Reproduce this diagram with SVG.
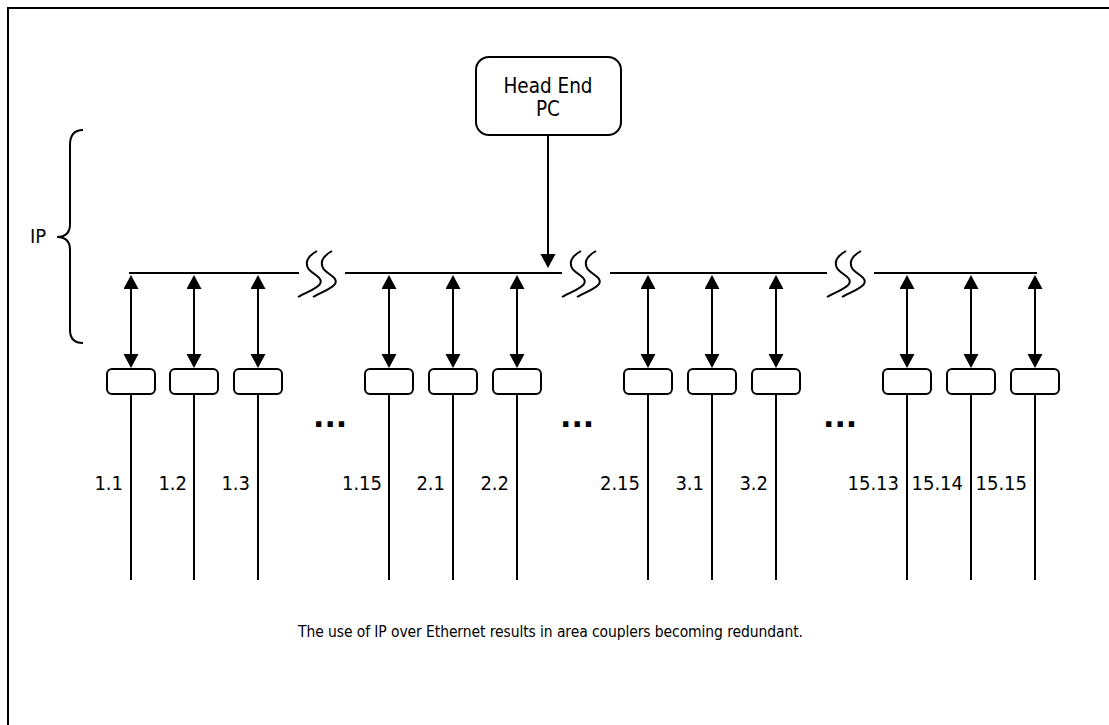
<svg xmlns="http://www.w3.org/2000/svg" width="1109" height="725" viewBox="0 0 1109 725">
  <style>
    .ln { stroke: #000; stroke-width: 2; fill: none; }
    .box { stroke: #000; stroke-width: 2; fill: #fff; }
    .txt { font-family: "DejaVu Sans Condensed", "DejaVu Sans", sans-serif; font-size: 20px; fill: #000; }
    .hd { font-size: 20.5px; }
    .lbl { text-anchor: end; }
    .dots { font-family: "DejaVu Sans", sans-serif; font-weight: bold; font-size: 30px; fill: #000; }
    .cap { font-family: "DejaVu Sans Condensed", "DejaVu Sans", sans-serif; font-size: 15.5px; fill: #000; }
    .arr { stroke: #000; stroke-width: 2; fill: none; marker-start: url(#tip); marker-end: url(#tip); }
  </style>
  <defs>
    <marker id="tip" markerUnits="userSpaceOnUse" markerWidth="16" markerHeight="16" refX="10" refY="7.5" orient="auto-start-reverse">
      <path d="M0,0 L14,7.5 L0,15 z" fill="#000"/>
    </marker>
    <!-- one break mark: two S-shaped strokes -->
    <g id="brk">
      <path class="ln" d="M19 251 C10 256 7 262 10 268 C13 274 26 277 22 284 C19 289 8 292 0 297"/>
      <path class="ln" d="M34 251 C25 256 22 262 25 268 C28 274 41 277 37 284 C34 289 23 292 15 297"/>
    </g>
  </defs>

  <rect width="1109" height="725" fill="#fff"/>
  <!-- page frame -->
  <path class="ln" d="M8 725 L8 8 L1109 8"/>

  <!-- head end -->
  <g id="head-end">
    <rect class="box" x="476" y="57" width="145" height="78" rx="13"/>
    <text class="txt hd" x="548" y="93" text-anchor="middle">Head End</text>
    <text class="txt hd" x="548" y="116" text-anchor="middle">PC</text>
  </g>

  <!-- IP bracket -->
  <g id="ip">
    <path class="ln" d="M83 130 Q70 130 70 145 L70 224 Q70 237 57 237 Q70 237 70 250 L70 330 Q70 343 83 343"/>
    <text class="txt" x="30" y="243">IP</text>
  </g>

  <g id="connectors">
    <!-- backbone segments -->
    <line class="ln" x1="129" y1="273" x2="299" y2="273"/>
    <line class="ln" x1="345" y1="273" x2="562" y2="273"/>
    <line class="ln" x1="610" y1="273" x2="827" y2="273"/>
    <line class="ln" x1="874" y1="273" x2="1037" y2="273"/>
    <use href="#brk" x="298"/>
    <use href="#brk" x="562"/>
    <use href="#brk" x="827"/>
    <!-- head end feed -->
    <line class="ln" x1="548" y1="135" x2="548" y2="264" marker-end="url(#tip)"/>
    <!-- coupler links -->
    <line class="arr" x1="131" y1="279" x2="131" y2="364"/>
    <line class="arr" x1="194" y1="279" x2="194" y2="364"/>
    <line class="arr" x1="258" y1="279" x2="258" y2="364"/>
    <line class="arr" x1="389" y1="279" x2="389" y2="364"/>
    <line class="arr" x1="453" y1="279" x2="453" y2="364"/>
    <line class="arr" x1="517" y1="279" x2="517" y2="364"/>
    <line class="arr" x1="648" y1="279" x2="648" y2="364"/>
    <line class="arr" x1="712" y1="279" x2="712" y2="364"/>
    <line class="arr" x1="776" y1="279" x2="776" y2="364"/>
    <line class="arr" x1="907" y1="279" x2="907" y2="364"/>
    <line class="arr" x1="971" y1="279" x2="971" y2="364"/>
    <line class="arr" x1="1035" y1="279" x2="1035" y2="364"/>
    <!-- lines -->
    <line class="ln" x1="131" y1="394" x2="131" y2="580"/>
    <line class="ln" x1="194" y1="394" x2="194" y2="580"/>
    <line class="ln" x1="258" y1="394" x2="258" y2="580"/>
    <line class="ln" x1="389" y1="394" x2="389" y2="580"/>
    <line class="ln" x1="453" y1="394" x2="453" y2="580"/>
    <line class="ln" x1="517" y1="394" x2="517" y2="580"/>
    <line class="ln" x1="648" y1="394" x2="648" y2="580"/>
    <line class="ln" x1="712" y1="394" x2="712" y2="580"/>
    <line class="ln" x1="776" y1="394" x2="776" y2="580"/>
    <line class="ln" x1="907" y1="394" x2="907" y2="580"/>
    <line class="ln" x1="971" y1="394" x2="971" y2="580"/>
    <line class="ln" x1="1035" y1="394" x2="1035" y2="580"/>
  </g>

  <!-- couplers -->
  <g id="c1-1"><rect class="box" x="107" y="369" width="48" height="25" rx="5"/><text class="txt lbl" x="123" y="490">1.1</text></g>
  <g id="c1-2"><rect class="box" x="170" y="369" width="48" height="25" rx="5"/><text class="txt lbl" x="187" y="490">1.2</text></g>
  <g id="c1-3"><rect class="box" x="234" y="369" width="48" height="25" rx="5"/><text class="txt lbl" x="250" y="490">1.3</text></g>
  <g id="c1-15"><rect class="box" x="365" y="369" width="48" height="25" rx="5"/><text class="txt lbl" x="382" y="490">1.15</text></g>
  <g id="c2-1"><rect class="box" x="429" y="369" width="48" height="25" rx="5"/><text class="txt lbl" x="445" y="490">2.1</text></g>
  <g id="c2-2"><rect class="box" x="493" y="369" width="48" height="25" rx="5"/><text class="txt lbl" x="509" y="490">2.2</text></g>
  <g id="c2-15"><rect class="box" x="624" y="369" width="48" height="25" rx="5"/><text class="txt lbl" x="640" y="490">2.15</text></g>
  <g id="c3-1"><rect class="box" x="688" y="369" width="48" height="25" rx="5"/><text class="txt lbl" x="704" y="490">3.1</text></g>
  <g id="c3-2"><rect class="box" x="752" y="369" width="48" height="25" rx="5"/><text class="txt lbl" x="768" y="490">3.2</text></g>
  <g id="c15-13"><rect class="box" x="883" y="369" width="48" height="25" rx="5"/><text class="txt lbl" x="899" y="490">15.13</text></g>
  <g id="c15-14"><rect class="box" x="947" y="369" width="48" height="25" rx="5"/><text class="txt lbl" x="963" y="490">15.14</text></g>
  <g id="c15-15"><rect class="box" x="1011" y="369" width="48" height="25" rx="5"/><text class="txt lbl" x="1027" y="490">15.15</text></g>

  <!-- ellipses between groups -->
  <text class="dots" x="313" y="427">...</text>
  <text class="dots" x="560" y="427">...</text>
  <text class="dots" x="823" y="427">...</text>

  <text class="cap" x="298" y="637" textLength="505" lengthAdjust="spacing">The use of IP over Ethernet results in area couplers becoming redundant.</text>
</svg>
